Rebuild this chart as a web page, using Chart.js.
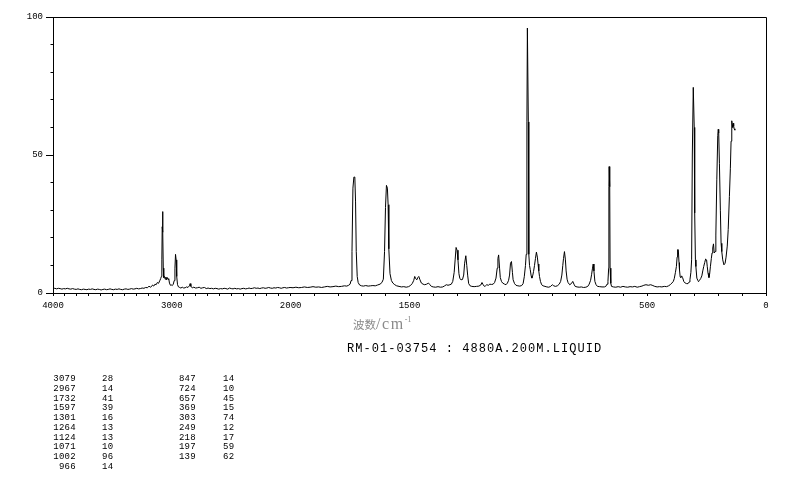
<!DOCTYPE html>
<html><head><meta charset="utf-8">
<script src="https://cdn.jsdelivr.net/npm/chart.js@4/dist/chart.umd.min.js"></script>
<style>
html,body{margin:0;padding:0;background:#fff;}
#wrap{position:relative;width:794px;height:482px;overflow:hidden;background:#fff;}
canvas{position:absolute;left:0;top:0;}
.t{position:absolute;white-space:pre;color:#000;}
.mono{font-family:"Liberation Mono","DejaVu Sans Mono",monospace;}
</style></head><body>
<div id="wrap">
<canvas id="c" width="794" height="482"></canvas>
<div class="t" id="xtitle" style="left:353px;top:315px;color:#8a8a8a;line-height:17px;"><span style="font-family:'Noto Sans CJK SC';font-size:11.5px;">波数</span><span style="font-family:'Liberation Serif';font-size:16px;letter-spacing:1.6px;">/cm</span><span style="font-family:'Liberation Serif';font-size:8px;position:relative;top:-7px;">-1</span></div>
<div class="t mono" id="sample" style="left:347px;top:342.5px;font-size:12px;line-height:12px;letter-spacing:1.03px;"></div>
<div class="t mono" id="col1" style="left:26px;width:50px;text-align:right;top:375px;font-size:9px;line-height:9.77px;letter-spacing:0.3px;"></div>
<div class="t mono" id="col2" style="left:102px;top:375px;font-size:9px;line-height:9.77px;letter-spacing:0.3px;"></div>
<div class="t mono" id="col3" style="left:146px;width:50px;text-align:right;top:375px;font-size:9px;line-height:9.77px;letter-spacing:0.3px;"></div>
<div class="t mono" id="col4" style="left:223px;top:375px;font-size:9px;line-height:9.77px;letter-spacing:0.3px;"></div>
</div>
<script>
// ---------- data ----------
const sampleLabel = 'RM-01-03754 : 4880A.200M.LIQUID';
const xTickLabels = ['4000', '3000', '2000', '1500', '500', '0'];
const yTickLabels = ['0', '50', '100'];

const peakWavenumbers = [3079, 2967, 1732, 1597, 1301, 1264, 1124, 1071, 1002, 966, 847, 724, 657, 369, 303, 249, 218, 197, 139];
const peakIntensities = [28, 14, 41, 39, 16, 13, 13, 10, 96, 14, 14, 10, 45, 15, 74, 12, 17, 59, 62];

// spectrum [wavenumber, intensity], 4000-2000 cm-1
const spectrumHigh = [
[4000,1.6],[3985,1.7],[3970,1.5],[3955,1.7],[3940,1.6],[3925,1.4],[3910,1.6],[3895,1.5],[3880,1.7],[3865,1.5],
[3850,1.4],[3835,1.6],[3820,1.4],[3805,1.3],[3790,1.5],[3775,1.3],[3760,1.2],[3745,1.4],[3730,1.3],[3715,1.2],
[3700,1.4],[3685,1.3],[3670,1.5],[3655,1.3],[3640,1.2],[3625,1.4],[3610,1.3],[3595,1.1],[3580,1.3],[3565,1.4],
[3550,1.2],[3535,1.3],[3520,1.5],[3505,1.3],[3490,1.2],[3475,1.4],[3460,1.3],[3445,1.5],[3430,1.3],[3415,1.2],
[3400,1.4],[3385,1.5],[3370,1.3],[3355,1.4],[3340,1.6],[3325,1.4],[3310,1.5],[3295,1.7],[3280,1.5],[3265,1.6],
[3250,1.8],[3235,1.7],[3220,2.0],[3205,1.9],[3192,2.5],[3182,2.1],[3172,2.3],[3162,2.9],[3152,2.5],[3142,3.2],
[3132,3.0],[3122,3.8],[3112,3.5],[3102,4.4],[3094,5.2],[3088,6.0],[3084,12],[3081,24],[3078,29.5],[3075,22],
[3072,9],[3068,5.6],[3062,6.0],[3056,5.0],[3050,5.8],[3044,4.8],[3038,5.6],[3032,4.9],[3026,5.2],[3020,3.6],
[3012,2.8],[3004,2.9],[2996,2.7],[2988,3.2],[2980,4.5],[2974,9],[2969,14],[2964,12],[2959,6],[2952,3.0],
[2944,2.2],[2934,2.0],[2924,1.8],[2912,2.1],[2900,1.8],[2888,1.9],[2876,2.2],[2864,2.0],[2852,2.6],[2846,3.4],
[2840,2.4],[2828,1.9],[2815,2.1],[2800,1.8],[2785,1.9],[2770,2.1],[2755,1.7],[2740,1.9],[2725,2.0],[2710,1.6],
[2695,1.8],[2680,1.6],[2665,1.7],[2650,1.5],[2635,1.7],[2620,1.6],[2605,1.4],[2590,1.6],[2575,1.5],[2560,1.7],
[2545,1.6],[2530,1.4],[2515,1.8],[2500,1.6],[2485,1.5],[2470,1.7],[2455,1.5],[2440,1.6],[2425,1.4],[2410,1.6],
[2395,1.7],[2380,1.5],[2365,1.6],[2350,1.8],[2335,1.6],[2320,1.7],[2305,1.9],[2290,1.7],[2275,1.8],[2260,1.6],
[2245,1.8],[2230,1.9],[2215,1.7],[2200,1.8],[2185,2.0],[2170,1.8],[2155,1.7],[2140,1.9],[2125,1.8],[2110,2.0],
[2095,1.9],[2080,1.7],[2065,1.9],[2050,2.0],[2035,1.8],[2020,1.9],[2005,2.0]
];

// 2000-1017 cm-1
const spectrumMid = [
[1990,1.9],[1978,2.1],[1966,1.9],[1954,2.0],[1942,2.2],[1930,2.0],[1918,2.1],[1906,2.3],[1894,2.1],[1882,2.2],
[1870,2.0],[1858,2.2],[1846,2.4],[1834,2.2],[1822,2.3],[1810,2.5],[1798,2.3],[1786,2.4],[1774,2.6],[1764,2.5],
[1756,2.8],[1750,3.2],[1746,4.5],[1742,15],[1738,38],[1734,42],[1730,42],[1727,33],[1724,15],[1720,6],
[1716,3.8],[1710,2.9],[1702,2.6],[1694,2.5],[1684,2.7],[1674,2.5],[1664,2.6],[1654,2.7],[1644,2.6],[1634,2.9],
[1624,3.2],[1616,3.8],[1610,5],[1605,15],[1601,31],[1597,39],[1593,38],[1590,32],[1587,16],[1582,7],
[1576,4.5],[1570,3.6],[1562,3.0],[1554,2.6],[1544,2.4],[1534,2.2],[1524,2.3],[1514,2.1],[1504,2.3],[1496,2.7],
[1488,3.5],[1482,4.6],[1478,6.0],[1474,5.2],[1469,4.8],[1465,5.6],[1461,6.0],[1456,4.8],[1450,3.6],[1443,3.2],
[1436,3.0],[1428,3.2],[1420,3.6],[1414,3.0],[1408,2.4],[1400,2.2],[1390,2.1],[1380,2.3],[1370,2.1],[1360,2.2],
[1352,2.6],[1345,3.0],[1338,2.8],[1330,3.0],[1324,3.2],[1318,4.2],[1312,7.5],[1308,12],[1304,16.5],[1300,15.5],
[1296,12],[1292,7],[1288,5.2],[1283,4.8],[1277,4.9],[1272,6.5],[1268,10.8],[1263,13.5],[1259,10],[1255,6.2],
[1251,3.4],[1245,2.6],[1238,2.4],[1228,2.3],[1218,2.4],[1208,2.5],[1200,2.9],[1195,3.8],[1190,3.0],[1185,2.4],
[1180,2.6],[1175,3.0],[1168,2.8],[1162,3.2],[1155,3.1],[1148,3.2],[1142,3.8],[1136,5.4],[1131,9],[1128,12.5],
[1125,13.8],[1121,9],[1118,5.6],[1113,4.2],[1108,3.6],[1100,3.2],[1094,3.0],[1088,3.6],[1083,4.6],[1079,6.5],
[1075,10.8],[1071,11.4],[1067,7.5],[1064,4.8],[1058,3.4],[1052,2.8],[1044,2.6],[1036,2.5],[1028,2.7],[1022,3.4],
[1017,5.9]
];

// 1016-130 cm-1
const spectrumLow = [
[1012,10],[1009,14],[1006,62],[1004,96],[1002,96],[1000,62],[998,14],[995,10],[992,8.5],[988,6.2],
[985,5.4],[981,6.5],[978,7.8],[974,10],[970,12.5],[966,14.8],[962,13],[959,10.5],[956,8],[953,6],
[949,4.2],[944,3.0],[938,2.6],[930,2.4],[922,2.2],[914,2.1],[906,2.4],[899,3.0],[893,2.6],[886,2.4],
[878,2.6],[870,3.2],[864,4.2],[859,6.5],[855,10],[852,12.5],[848,15],[844,12],[841,8],[837,5],
[833,3.8],[826,3.0],[819,3.4],[813,4.2],[808,3.2],[803,2.4],[795,2.2],[786,2.1],[777,2.2],[768,2.0],
[758,2.1],[750,2.4],[744,3.2],[738,4.6],[734,6.6],[730,9],[727,10.5],[724,8],[720,4.2],[715,3.0],
[709,2.4],[700,2.3],[690,2.2],[680,2.2],[674,2.4],[669,3.2],[665,4.2],[662,9],[661,38.5],[660,45.8],
[658,45.8],[657,38.5],[656,9],[653,3.5],[650,2.4],[642,2.2],[632,2.1],[622,2.3],[612,2.1],[602,2.4],
[592,2.2],[582,2.1],[572,2.3],[562,2.2],[552,2.4],[542,2.1],[532,2.3],[522,2.5],[514,2.8],[505,3.0],
[495,2.8],[485,3.0],[476,2.7],[468,2.4],[458,2.2],[448,2.3],[438,2.2],[428,2.4],[418,2.3],[410,2.6],
[403,3.0],[396,3.6],[390,4.2],[386,5.2],[381,7.5],[377,9.6],[374,13],[372,15.7],[369,15.7],[366,11],
[364,8.4],[361,5.8],[358,5.6],[355,6.2],[351,5.6],[346,4.2],[340,3.6],[334,3.4],[328,3.4],[323,4.0],
[320,4.8],[316,7.5],[313,12],[310,50],[306,74.5],[304,74.5],[302,60],[300,29],[297,12],[295,9.6],
[291,5.4],[287,4.6],[284,4.1],[280,4.6],[275,5.2],[270,6.2],[266,8],[262,9.6],[258,11],[254,12.3],
[250,12],[247,9.5],[244,7.2],[240,5.6],[237,7],[234,9.5],[230,12.5],[227,14.5],[224,16.3],[221,17.8],
[218,14.5],[214,15],[211,21],[207,41],[203,57],[201,59.3],[199,58],[196,47],[192,30],[189,18],
[186,15],[182,12],[177,10.2],[172,10.8],[168,13],[163,17],[159,23],[154,35],[150,45],[147,55],
[144,62.4],[142,61],[140,60],[138,61.5],[136,60.5],[134,59.5],[131,59]
];

// ---------- split wavenumber axis (4000-2000 compressed 2x) ----------
const AXIS_MAX = 4000, AXIS_BREAK = 2000;
function toAxisUnit(wn) { return wn >= AXIS_BREAK ? (AXIS_MAX - wn) : (AXIS_MAX - AXIS_BREAK) + 2 * (AXIS_BREAK - wn); }
function fromAxisUnit(u) { return u <= (AXIS_MAX - AXIS_BREAK) ? AXIS_MAX - u : AXIS_BREAK - (u - (AXIS_MAX - AXIS_BREAK)) / 2; }
const UNIT_SPAN = toAxisUnit(0);

class SplitScale extends Chart.LinearScale {
  buildTicks() {
    this.start = this.min; this.end = this.max;
    const t = [];
    for (let v = AXIS_MAX; v >= 0; v -= 100) t.push({ value: v });
    return t;
  }
  getPixelForValue(v) { return v == null ? NaN : this.getPixelForDecimal(toAxisUnit(v) / UNIT_SPAN); }
  getValueForPixel(p) { return fromAxisUnit(this.getDecimalForPixel(p) * UNIT_SPAN); }
}
SplitScale.id = 'split';
SplitScale.defaults = Chart.LinearScale.defaults;
Chart.register(SplitScale);

const framePlugin = {
  id: 'frame',
  afterDraw(chart) {
    const { ctx, chartArea: a, scales } = chart;
    const al = p => Math.round(p - 0.5) + 0.5;
    ctx.save();
    ctx.strokeStyle = '#000'; ctx.lineWidth = 1;
    ctx.beginPath();
    ctx.moveTo(al(a.left), al(a.top)); ctx.lineTo(al(a.right), al(a.top)); ctx.lineTo(al(a.right), al(a.bottom));
    // minor y ticks every 10
    for (let v = 10; v < 100; v += 10) {
      if (v === 50) continue;
      const py = al(scales.y.getPixelForValue(v));
      ctx.moveTo(al(a.left) - 3, py); ctx.lineTo(al(a.left), py);
    }
    ctx.stroke();
    ctx.restore();
  }
};

const allPoints = spectrumHigh.concat(spectrumMid, spectrumLow).map(p => ({ x: p[0], y: p[1] }));
const tickFont = { family: 'Liberation Mono', size: 9 };

new Chart(document.getElementById('c'), {
  type: 'scatter',
  data: { datasets: [{ data: allPoints, showLine: true, borderColor: '#000', borderWidth: 1, pointRadius: 0, tension: 0, fill: false }] },
  options: {
    responsive: false, animation: false, devicePixelRatio: 1,
    layout: { padding: { left: 0, top: 17, right: 28, bottom: 164 } },
    plugins: { legend: { display: false }, tooltip: { enabled: false } },
    scales: {
      x: {
        type: 'split', min: 0, max: 4000,
        afterFit: s => { s.height = 25; },
        border: { display: true, color: '#000', width: 1 },
        grid: { drawOnChartArea: false, drawTicks: true, tickLength: 3, color: '#000' },
        ticks: { autoSkip: false, maxRotation: 0, minRotation: 0, padding: 4, color: '#000', font: tickFont,
          callback: v => xTickLabels.includes(String(v)) ? String(v) : '' }
      },
      y: {
        type: 'linear', min: 0, max: 100,
        afterFit: s => { s.width = 53; },
        border: { display: true, color: '#000', width: 1 },
        grid: { drawOnChartArea: false, drawTicks: true, tickLength: 7, color: '#000' },
        ticks: { stepSize: 50, padding: 3, color: '#000', font: tickFont,
          callback: v => yTickLabels.includes(String(v)) ? String(v) : '' }
      }
    }
  },
  plugins: [framePlugin]
});

// ---------- text blocks ----------
document.getElementById('sample').textContent = sampleLabel;
const n1 = 10;
document.getElementById('col1').textContent = peakWavenumbers.slice(0, n1).join('\n');
document.getElementById('col2').textContent = peakIntensities.slice(0, n1).join('\n');
document.getElementById('col3').textContent = peakWavenumbers.slice(n1).join('\n');
document.getElementById('col4').textContent = peakIntensities.slice(n1).join('\n');
</script>
</body></html>
